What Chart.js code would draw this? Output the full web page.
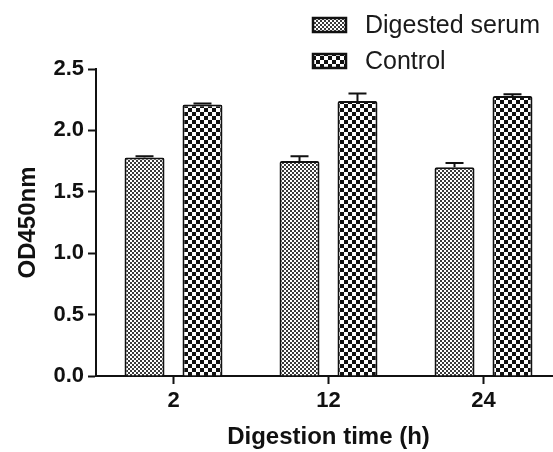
<!DOCTYPE html>
<html>
<head>
<meta charset="utf-8">
<script src="https://cdn.jsdelivr.net/npm/chart.js@4"></script>
<style>
  html, body { margin: 0; padding: 0; background: #fff; overflow: hidden; }
  #wrap { width: 553px; height: 452px; overflow: hidden; }
</style>
</head>
<body>
<div id="wrap"><canvas id="chart" width="563" height="452"></canvas></div>
<script>
// 데이터
const categories = ['2', '12', '24'];
const digested = [1.78, 1.75, 1.70];
const digestedErr = [0.01, 0.04, 0.035];
const control = [2.21, 2.24, 2.28];
const controlErr = [0.01, 0.06, 0.015];
const seriesLabels = ['Digested serum', 'Control'];

const FONT = '"Liberation Sans", Arial, sans-serif';
const INK = '#111';

// 체커 패턴 만들기
function checker(cell, ink) {
    const c = document.createElement('canvas');
    c.width = cell * 2; c.height = cell * 2;
    const g = c.getContext('2d');
    g.fillStyle = '#fff';
    g.fillRect(0, 0, c.width, c.height);
    g.fillStyle = ink;
    g.fillRect(0, 0, cell, cell);
    g.fillRect(cell, cell, cell, cell);
    return g.createPattern(c, 'repeat');
}
const finePattern = checker(2, '#3a3a3a');
const coarsePattern = checker(4, INK);

// 위쪽 오차 막대
const errorBarPlugin = {
    id: 'errorBars',
    afterDatasetsDraw(chart) {
        const { ctx } = chart;
        const y = chart.scales.y;
        chart.data.datasets.forEach((ds, i) => {
            const meta = chart.getDatasetMeta(i);
            meta.data.forEach((bar, j) => {
                const top = y.getPixelForValue(ds.data[j] + ds.errors[j]);
                ctx.save();
                ctx.strokeStyle = INK;
                ctx.lineWidth = 2;
                ctx.beginPath();
                ctx.moveTo(bar.x, bar.y);
                ctx.lineTo(bar.x, top);
                ctx.moveTo(bar.x - 9, top);
                ctx.lineTo(bar.x + 9, top);
                ctx.stroke();
                ctx.restore();
            });
        });
    }
};

// 오른쪽 위 범례 (세로로 쌓기)
const boxLegendPlugin = {
    id: 'boxLegend',
    afterDraw(chart) {
        const { ctx } = chart;
        chart.data.datasets.forEach((ds, i) => {
            const cy = 25 + i * 36;
            ctx.save();
            ctx.fillStyle = ds.backgroundColor;
            ctx.fillRect(313, cy - 7, 33, 14);
            ctx.strokeStyle = INK;
            ctx.lineWidth = 2.5;
            ctx.strokeRect(313, cy - 7, 33, 14);
            ctx.font = '25px ' + FONT;
            ctx.fillStyle = '#1a1a1a';
            ctx.textBaseline = 'middle';
            ctx.fillText(ds.label, 365, cy + 1);
            ctx.restore();
        });
    }
};

new Chart(document.getElementById('chart'), {
    type: 'bar',
    data: {
        labels: categories,
        datasets: [
            { label: seriesLabels[0], data: digested, errors: digestedErr, backgroundColor: finePattern },
            { label: seriesLabels[1], data: control, errors: controlErr, backgroundColor: coarsePattern }
        ]
    },
    options: {
        responsive: false,
        animation: false,
        layout: { padding: { top: 69, right: 2, bottom: 0, left: 0 } },
        datasets: {
            bar: {
                categoryPercentage: 0.748,
                barPercentage: 0.69,
                borderColor: INK,
                borderWidth: 2,
                borderRadius: { topLeft: 2, topRight: 2 },
                borderSkipped: 'bottom'
            }
        },
        plugins: {
            legend: { display: false },
            tooltip: { enabled: false }
        },
        scales: {
            x: {
                grid: { offset: false, drawOnChartArea: false, color: INK, tickLength: 8, tickWidth: 2 },
                border: { color: INK, width: 2 },
                ticks: { color: INK, padding: 4, font: { family: FONT, size: 22, weight: 'bold' } },
                title: {
                    display: true, text: 'Digestion time (h)', color: INK,
                    padding: { top: 0, bottom: 0 },
                    font: { family: FONT, size: 24, weight: 'bold' }
                },
                afterFit(scale) { scale.height = 76; }
            },
            y: {
                min: 0, max: 2.5,
                grid: { drawOnChartArea: false, color: INK, tickLength: 8, tickWidth: 2 },
                border: { color: INK, width: 2 },
                ticks: {
                    stepSize: 0.5, color: INK, padding: 4,
                    font: { family: FONT, size: 22, weight: 'bold' },
                    callback: v => v.toFixed(1)
                },
                title: {
                    display: true, text: 'OD450nm', color: INK,
                    padding: { top: 14, bottom: 0 },
                    font: { family: FONT, size: 24, weight: 'bold' }
                },
                afterFit(scale) { scale.width = 96; }
            }
        }
    },
    plugins: [errorBarPlugin, boxLegendPlugin]
});
</script>
</body>
</html>
